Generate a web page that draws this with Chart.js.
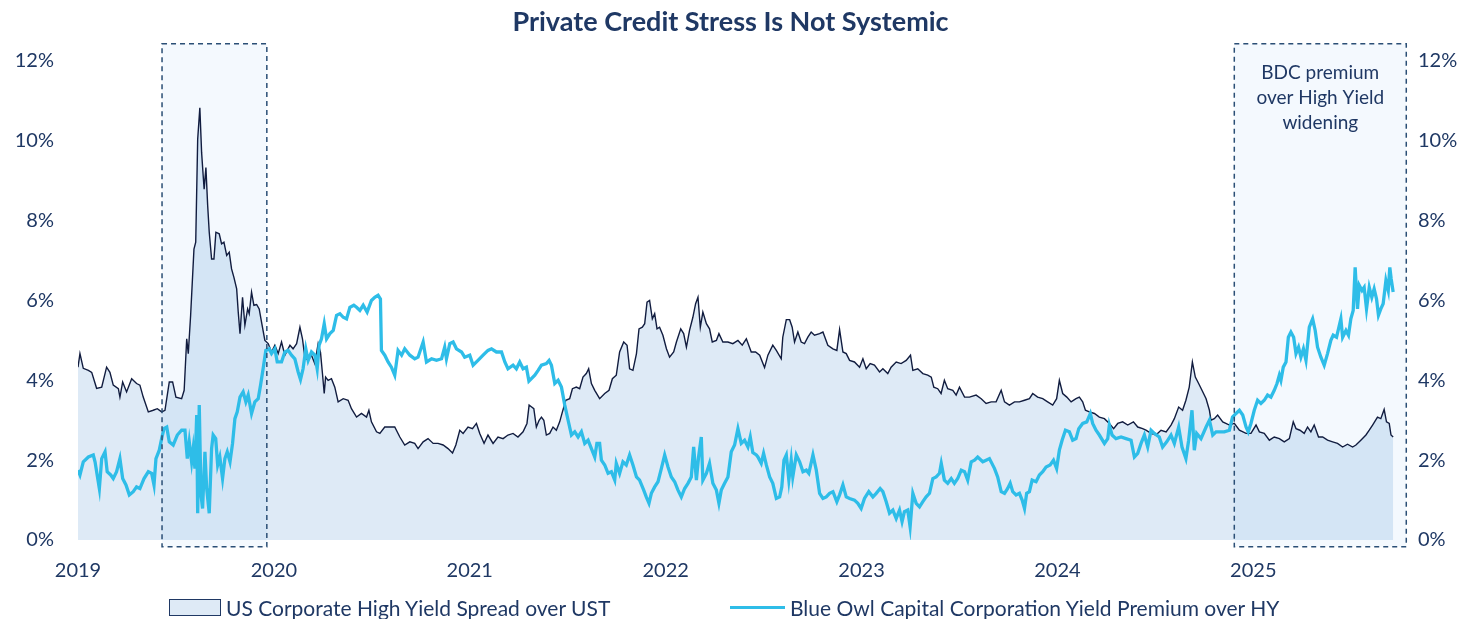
<!DOCTYPE html>
<html>
<head>
<meta charset="utf-8">
<script src="https://cdn.jsdelivr.net/npm/chart.js@4.4.1/dist/chart.umd.min.js"></script>
<style>
  html, body { margin: 0; padding: 0; background: #fff; }
  #wrap { position: relative; width: 1461px; height: 619px; font-family: Lato, "Open Sans", sans-serif; color: #1F3864; }
  #myChart { position: absolute; left: 0; top: 0; }
  .legend-item { position: absolute; top: 596px; height: 23px; display: flex; align-items: center; font-size: 21px; white-space: nowrap; }
  .swatch-box { width: 52px; height: 17px; background: #DEEAF6; border: 1.5px solid #1F3864; box-sizing: border-box; margin-right: 5px; }
  .swatch-line { width: 55px; height: 3px; background: #2EBDE8; margin-right: 5px; }
</style>
</head>
<body>
<div id="wrap">
  <canvas id="myChart" width="1461" height="619"></canvas>
  <div class="legend-item" style="left:169px"><span class="swatch-box"></span>US Corporate High Yield Spread over UST</div>
  <div class="legend-item" style="left:730px"><span class="swatch-line"></span>Blue Owl Capital Corporation Yield Premium over HY</div>
</div>
<script>
// x positions are years since the start of the axis (first label)
const yearLabels = ['2019', '2020', '2021', '2022', '2023', '2024', '2025'];
const yTicks = [0, 2, 4, 6, 8, 10, 12];

// US Corporate High Yield Spread over UST (%)
const hyT = [
  0.000,0.010,0.027,0.053,0.070,0.095,0.121,0.146,0.163,0.180,0.206,0.214,0.228,0.248,0.274,0.299,0.316,0.333,0.359,0.384,0.405,0.427,0.444,0.466,0.483,0.500,0.529,0.542,0.555,0.563,0.575,0.592,0.601,0.611,0.622,0.631,0.639,0.644,0.653,0.662,0.670,0.682,0.694,0.704,0.721,0.733,0.745,0.759,0.772,0.784,0.796,0.810,0.818,0.827,0.840,0.852,0.866,0.874,0.886,0.898,0.912,0.925,0.937,0.954,0.971,0.988,
  1.005,1.022,1.039,1.056,1.082,1.098,1.116,1.133,1.146,1.158,1.175,1.192,1.209,1.226,1.238,1.248,1.257,1.264,1.277,1.294,1.311,1.328,1.354,1.379,1.396,1.422,1.447,1.473,1.485,1.498,1.524,1.541,1.566,1.592,1.617,1.643,1.668,1.694,1.719,1.736,1.762,1.787,1.813,1.838,1.864,1.889,1.912,1.929,1.949,1.966,1.991,
  2.014,2.034,2.051,2.073,2.093,2.119,2.144,2.170,2.195,2.221,2.246,2.272,2.292,2.303,2.311,2.327,2.340,2.354,2.366,2.378,2.391,2.408,2.425,2.442,2.459,2.473,2.490,2.510,2.524,2.544,2.561,2.578,2.595,2.607,2.621,2.638,2.663,2.689,2.711,2.728,2.748,2.765,2.786,2.803,2.816,2.833,2.851,2.864,2.881,2.893,2.905,2.918,2.932,2.944,2.956,2.969,2.986,
  3.004,3.020,3.041,3.055,3.077,3.092,3.106,3.122,3.139,3.153,3.165,3.177,3.190,3.208,3.224,3.238,3.259,3.272,3.292,3.318,3.343,3.369,3.391,3.412,3.437,3.459,3.480,3.505,3.522,3.547,3.565,3.590,3.598,3.616,3.633,3.646,3.658,3.675,3.692,3.709,3.726,3.743,3.760,3.786,3.803,3.828,3.854,3.874,3.888,3.905,3.922,3.939,3.964,3.990,
  4.007,4.024,4.044,4.066,4.092,4.109,4.134,4.151,4.177,4.202,4.228,4.250,4.262,4.287,4.313,4.338,4.356,4.369,4.389,4.406,4.423,4.440,4.466,4.483,4.500,4.526,4.551,4.585,4.611,4.636,4.662,4.687,4.713,4.730,4.755,4.781,4.806,4.832,4.857,4.874,4.899,4.925,4.950,4.976,4.996,
  5.010,5.027,5.048,5.070,5.095,5.112,5.129,5.143,5.163,5.189,5.214,5.240,5.265,5.287,5.308,5.333,5.359,5.388,5.410,5.435,5.452,5.478,5.503,5.529,5.555,5.580,5.597,5.619,5.639,5.656,5.673,5.689,5.704,5.721,5.738,5.759,5.776,5.784,5.801,5.818,5.844,5.878,5.903,5.929,5.963,5.988,
  6.014,6.031,6.056,6.082,6.107,6.133,6.158,6.184,6.204,6.218,6.238,6.260,6.277,6.294,6.311,6.333,6.354,6.379,6.405,6.430,6.456,6.481,6.507,6.524,6.549,6.575,6.592,6.609,6.634,6.651,6.668,6.680,6.694,6.703,6.714
];
const hySpread = [
  4.33,4.67,4.30,4.25,4.20,3.80,3.83,4.33,4.20,3.88,3.79,3.58,3.96,3.71,4.04,3.92,3.88,3.58,3.21,3.25,3.29,3.21,3.25,3.96,3.96,3.58,3.54,3.75,5.04,4.67,5.63,7.29,7.46,10.04,10.83,9.71,9.13,8.79,9.33,8.38,7.71,7.04,7.04,7.71,7.67,7.42,7.46,7.13,7.21,6.79,6.58,6.29,5.71,5.17,6.08,5.38,5.79,5.67,6.21,5.88,5.90,5.79,5.46,5.00,4.92,4.71,
  4.88,4.67,4.96,4.63,4.88,4.79,4.92,5.33,5.04,4.58,4.50,4.63,4.42,4.92,4.70,4.17,3.67,4.08,4.00,4.04,3.83,3.46,3.54,3.50,3.29,3.08,3.17,3.08,3.25,2.96,2.71,2.67,2.83,2.83,2.83,2.58,2.38,2.46,2.42,2.29,2.46,2.54,2.42,2.42,2.38,2.29,2.18,2.38,2.75,2.67,2.83,
  2.79,2.92,2.67,2.42,2.63,2.42,2.58,2.54,2.63,2.67,2.58,2.71,2.92,3.38,3.35,3.29,2.83,3.00,3.08,3.00,2.63,2.67,2.83,2.75,2.96,3.21,3.50,3.54,3.79,3.83,3.79,4.08,4.17,4.29,3.92,3.75,3.54,3.67,3.75,4.04,4.13,4.71,4.96,4.88,4.29,4.25,4.67,5.29,5.33,5.42,5.96,6.00,5.54,5.67,5.29,5.33,5.13,
  4.79,4.58,4.71,4.96,5.29,5.17,4.83,5.25,5.58,5.92,6.08,5.33,5.71,5.42,5.29,4.96,5.00,5.17,4.96,4.96,4.92,5.00,4.88,5.04,4.71,4.71,4.63,4.32,4.63,4.88,4.75,4.54,5.08,5.52,5.52,5.33,4.96,5.21,4.96,4.92,5.08,5.21,5.13,5.17,5.21,4.88,4.79,4.75,5.27,4.71,4.67,4.50,4.46,4.33,
  4.54,4.29,4.42,4.38,4.21,4.29,4.17,4.33,4.46,4.42,4.50,4.63,4.25,4.29,4.17,4.13,4.08,3.83,3.79,3.67,4.00,3.79,3.75,3.63,3.83,3.58,3.58,3.63,3.54,3.42,3.46,3.46,3.75,3.46,3.38,3.46,3.46,3.50,3.54,3.67,3.58,3.54,3.46,3.38,3.54,
  4.00,3.67,3.58,3.46,3.54,3.58,3.46,3.25,3.21,3.17,3.08,3.04,2.92,2.79,2.92,2.96,2.88,2.96,2.83,2.79,2.75,2.67,2.63,2.75,2.71,2.88,3.04,3.33,3.25,3.50,3.83,4.46,4.08,3.92,3.75,3.54,3.25,3.00,3.04,3.13,2.96,2.88,2.92,2.75,2.67,2.67,
  2.88,2.71,2.67,2.50,2.58,2.54,2.46,2.54,2.96,2.79,2.75,2.67,2.83,2.71,2.88,2.58,2.58,2.50,2.46,2.42,2.33,2.40,2.33,2.38,2.50,2.63,2.75,2.88,3.08,3.04,3.27,2.96,2.92,2.63,2.58
];

// Blue Owl Capital Corporation Yield Premium over HY (%)
const bdcT = [
  0.000,0.010,0.027,0.053,0.078,0.087,0.109,0.121,0.138,0.149,0.167,0.180,0.197,0.214,0.228,0.245,0.262,0.282,0.299,0.316,0.337,0.359,0.376,0.388,0.398,0.415,0.427,0.439,0.453,0.466,0.486,0.507,0.529,0.546,0.558,0.568,0.580,0.588,0.597,0.606,0.611,0.619,0.628,0.636,0.648,0.657,0.670,0.682,0.690,0.703,0.713,0.724,0.738,0.750,0.762,0.776,0.789,0.801,0.813,0.827,0.843,0.857,0.869,0.886,0.903,0.920,0.932,0.945,0.959,0.976,0.988,
  1.005,1.017,1.039,1.056,1.073,1.090,1.107,1.124,1.136,1.149,1.163,1.175,1.192,1.209,1.221,1.231,1.243,1.257,1.269,1.286,1.303,1.320,1.337,1.354,1.371,1.388,1.408,1.422,1.439,1.456,1.476,1.498,1.515,1.532,1.544,1.549,1.566,1.583,1.600,1.617,1.634,1.652,1.668,1.694,1.719,1.736,1.762,1.779,1.805,1.830,1.856,1.872,1.881,1.898,1.915,1.932,1.958,1.974,
  2.000,2.017,2.042,2.068,2.093,2.111,2.136,2.162,2.179,2.195,2.221,2.238,2.255,2.272,2.289,2.302,2.332,2.349,2.366,2.391,2.405,2.417,2.434,2.451,2.468,2.485,2.502,2.519,2.536,2.553,2.570,2.587,2.604,2.621,2.638,2.649,2.663,2.672,2.689,2.706,2.723,2.740,2.748,2.765,2.782,2.799,2.816,2.833,2.851,2.867,2.888,2.901,2.915,2.927,2.944,2.961,2.978,2.995,
  3.012,3.029,3.046,3.063,3.080,3.097,3.114,3.131,3.143,3.157,3.168,3.182,3.190,3.208,3.224,3.241,3.259,3.272,3.284,3.301,3.318,3.335,3.352,3.369,3.386,3.403,3.420,3.432,3.445,3.463,3.471,3.488,3.500,3.514,3.531,3.547,3.565,3.582,3.593,3.604,3.616,3.629,3.641,3.649,3.667,3.684,3.701,3.718,3.731,3.752,3.769,3.786,3.803,3.820,3.837,3.854,3.874,3.888,3.905,3.922,3.939,3.964,3.981,3.998,
  4.015,4.037,4.058,4.075,4.095,4.109,4.126,4.143,4.160,4.177,4.194,4.207,4.219,4.236,4.248,4.262,4.279,4.296,4.313,4.330,4.347,4.364,4.381,4.398,4.407,4.423,4.440,4.458,4.474,4.491,4.509,4.526,4.542,4.560,4.577,4.593,4.619,4.636,4.653,4.679,4.695,4.713,4.730,4.746,4.759,4.772,4.789,4.806,4.820,4.832,4.843,4.857,4.871,4.891,4.908,4.925,4.942,4.963,4.980,4.996,
  5.010,5.024,5.041,5.061,5.078,5.095,5.109,5.129,5.150,5.168,5.180,5.197,5.214,5.240,5.257,5.265,5.279,5.299,5.325,5.350,5.376,5.393,5.410,5.427,5.444,5.461,5.478,5.495,5.520,5.537,5.558,5.580,5.597,5.619,5.636,5.656,5.670,5.687,5.699,5.711,5.733,5.759,5.776,5.793,5.810,5.827,5.852,5.878,5.894,5.912,5.929,5.946,5.963,5.974,5.988,
  6.005,6.022,6.039,6.056,6.073,6.090,6.107,6.121,6.133,6.141,6.153,6.167,6.179,6.192,6.206,6.218,6.231,6.243,6.256,6.269,6.286,6.303,6.316,6.328,6.345,6.362,6.379,6.396,6.408,6.425,6.435,6.447,6.456,6.473,6.486,6.498,6.510,6.520,6.532,6.541,6.555,6.566,6.578,6.592,6.605,6.617,6.629,6.639,6.651,6.663,6.677,6.689,6.697,6.704,6.714
];
const bdcPremium = [
  1.75,1.63,1.96,2.08,2.13,1.96,1.29,2.04,2.21,1.71,1.63,1.54,1.71,2.04,1.54,1.38,1.13,1.21,1.33,1.29,1.54,1.71,1.67,1.38,2.04,2.25,2.54,2.79,2.83,2.46,2.38,2.63,2.75,2.75,2.04,2.46,1.96,2.29,1.79,3.13,0.67,3.38,1.13,0.79,2.21,1.29,0.67,2.29,2.63,2.54,1.88,2.08,1.54,2.04,2.21,1.96,2.42,3.04,3.21,3.58,3.71,3.46,3.63,3.17,3.46,3.54,3.88,4.29,4.75,4.79,4.67,
  4.79,4.46,4.46,4.71,4.75,4.63,4.54,4.21,4.02,4.29,4.79,4.50,4.71,4.63,4.29,4.88,5.04,5.42,5.04,5.17,5.25,5.63,5.67,5.58,5.54,5.83,5.88,5.83,5.75,5.88,5.71,6.00,6.08,6.13,6.04,4.75,4.63,4.46,4.33,4.13,4.75,4.63,4.79,4.63,4.54,4.58,4.96,4.46,4.54,4.50,4.54,4.83,4.54,4.92,4.96,4.79,4.71,4.58,
  4.63,4.38,4.50,4.63,4.75,4.79,4.71,4.71,4.46,4.29,4.38,4.29,4.46,4.29,4.33,3.98,4.13,4.25,4.38,4.42,4.50,4.38,3.92,4.00,3.83,3.38,3.00,2.63,2.71,2.58,2.71,2.42,2.50,2.29,2.08,2.42,2.42,2.00,1.88,1.67,1.71,1.50,1.92,1.67,1.96,1.88,2.13,1.88,1.58,1.50,1.25,1.08,0.92,1.17,1.33,1.46,1.79,2.13,
  1.83,1.58,1.46,1.25,1.08,1.29,1.42,1.58,2.33,1.50,2.08,2.58,1.50,1.67,1.92,1.42,1.25,0.92,1.25,1.42,1.58,2.21,2.38,2.79,2.42,2.50,2.33,2.58,2.19,2.13,2.08,1.92,2.17,1.88,1.58,1.42,1.04,1.08,1.33,2.00,2.13,1.50,2.00,1.58,2.13,1.96,1.71,1.75,1.67,2.13,1.75,1.17,1.04,1.08,1.17,1.21,0.96,1.13,1.38,1.08,1.04,1.00,0.92,0.79,
  1.04,1.21,1.08,1.17,1.29,1.21,0.96,0.67,0.75,0.54,0.75,0.46,0.71,0.75,0.33,1.17,0.92,0.83,0.96,1.08,1.17,1.54,1.58,1.67,1.92,1.50,1.42,1.54,1.42,1.54,1.75,1.71,1.50,1.96,2.00,2.08,1.96,2.00,2.04,1.79,1.58,1.21,1.17,1.29,1.42,1.21,1.13,1.17,1.00,0.79,1.17,1.21,1.50,1.46,1.63,1.71,1.83,1.88,2.00,1.79,
  2.25,2.50,2.75,2.71,2.50,2.54,2.79,2.92,2.96,3.17,2.92,2.75,2.63,2.42,2.54,2.88,2.63,2.54,2.58,2.54,2.50,2.08,2.17,2.42,2.63,2.33,2.75,2.67,2.58,2.33,2.46,2.63,2.42,2.83,2.33,2.04,2.50,3.25,2.25,2.67,2.54,2.83,3.00,2.63,2.71,2.71,2.71,2.75,3.08,3.17,3.25,3.13,2.83,2.71,2.92,
  3.25,3.50,3.42,3.50,3.63,3.58,3.75,3.92,4.13,4.00,4.33,4.46,5.08,5.21,5.08,4.67,4.83,4.58,4.79,4.50,5.33,5.54,5.25,4.83,4.58,4.38,4.67,5.00,5.13,5.08,5.29,5.54,5.08,5.25,5.13,5.54,5.75,6.83,5.79,6.38,6.25,6.33,5.79,6.33,6.08,6.29,6.04,5.63,5.79,5.92,6.50,6.25,6.83,6.54,6.21
];

// shaded highlight windows (x in years since start, y in %)
const highlightFrom = [0.429, 5.903];
const highlightTo = [0.964, 6.781];
const highlightNotes = [[], ['BDC premium', 'over High Yield', 'widening']];
const highlightTop = 12.43;
const highlightBottom = -0.17;

const navy = '#1F3864';

const toPoints = (xs, ys) => xs.map((x, i) => ({ x: x, y: ys[i] }));

// draws the dashed highlight boxes through the chart scales
const highlightPlugin = {
    id: 'highlights',
    beforeDatasetsDraw(chart) {
        const { ctx, scales } = chart;
        ctx.save();
        ctx.fillStyle = '#F4F9FE';
        for (let i = 0; i < highlightFrom.length; i++) {
            const x1 = scales.x.getPixelForValue(highlightFrom[i]);
            const x2 = scales.x.getPixelForValue(highlightTo[i]);
            const y1 = scales.y.getPixelForValue(highlightTop);
            const y2 = scales.y.getPixelForValue(highlightBottom);
            ctx.fillRect(x1, y1, x2 - x1, y2 - y1);
        }
        ctx.restore();
    },
    afterDatasetsDraw(chart) {
        const { ctx, scales } = chart;
        ctx.save();
        ctx.strokeStyle = '#2B4F76';
        ctx.lineWidth = 1.5;
        ctx.setLineDash([5, 4]);
        for (let i = 0; i < highlightFrom.length; i++) {
            const x1 = scales.x.getPixelForValue(highlightFrom[i]);
            const x2 = scales.x.getPixelForValue(highlightTo[i]);
            const y1 = scales.y.getPixelForValue(highlightTop);
            const y2 = scales.y.getPixelForValue(highlightBottom);
            ctx.strokeRect(x1, y1, x2 - x1, y2 - y1);

            ctx.fillStyle = navy;
            ctx.font = '19px Lato, "Open Sans", sans-serif';
            ctx.textAlign = 'center';
            ctx.textBaseline = 'middle';
            highlightNotes[i].forEach((line, j) => {
                ctx.fillText(line, (x1 + x2) / 2, y1 + 29 + j * 25);
            });
        }
        ctx.restore();
    }
};

const tickFont = { family: 'Lato, "Open Sans", sans-serif', size: 20 };

let myChart;
const displayGraph = () => {
    const ctx = document.getElementById('myChart');
    myChart = new Chart(ctx, {
        type: 'line',
        data: {
            datasets: [{
                label: 'Blue Owl Capital Corporation Yield Premium over HY',
                data: toPoints(bdcT, bdcPremium),
                borderColor: '#2EBDE8',
                borderWidth: 3.3,
                pointRadius: 0,
                fill: false,
                tension: 0
            }, {
                label: 'US Corporate High Yield Spread over UST',
                data: toPoints(hyT, hySpread),
                borderColor: '#111C3F',
                borderWidth: 1.4,
                backgroundColor: 'rgba(35,115,195,0.15)',
                pointRadius: 0,
                fill: 'origin',
                tension: 0
            }]
        },
        options: {
            responsive: false,
            animation: false,
            devicePixelRatio: 1,
            layout: { padding: { left: 0, right: 0, top: 0, bottom: 29 } },
            plugins: {
                legend: { display: false },
                tooltip: { enabled: false },
                title: {
                    display: true,
                    text: 'Private Credit Stress Is Not Systemic',
                    color: navy,
                    font: { family: 'Lato, "Open Sans", sans-serif', size: 27, weight: 'bold', lineHeight: 1.2 },
                    padding: { top: 5.8, bottom: 22.8 }
                }
            },
            scales: {
                x: {
                    type: 'linear',
                    min: 0,
                    max: 6.8,
                    grid: { display: false, drawTicks: false },
                    border: { display: false },
                    afterBuildTicks: (scale) => {
                        scale.ticks = yearLabels.map((_, i) => ({ value: i }));
                    },
                    afterFit: (scale) => { scale.height = 50; },
                    ticks: {
                        autoSkip: false,
                        maxRotation: 0,
                        padding: 19,
                        color: navy,
                        font: tickFont,
                        callback: (v) => yearLabels[v] ?? ''
                    }
                },
                y: {
                    position: 'left',
                    min: 0,
                    max: 12,
                    grid: { display: false, drawTicks: false },
                    border: { display: false },
                    afterBuildTicks: (scale) => {
                        scale.ticks = yTicks.map((v) => ({ value: v }));
                    },
                    afterFit: (scale) => { scale.width = 78; },
                    ticks: { padding: 24, color: navy, font: tickFont, callback: (v) => v + '%' }
                },
                y2: {
                    position: 'right',
                    min: 0,
                    max: 12,
                    grid: { display: false, drawTicks: false },
                    border: { display: false },
                    afterBuildTicks: (scale) => {
                        scale.ticks = yTicks.map((v) => ({ value: v }));
                    },
                    afterFit: (scale) => { scale.width = 51; },
                    ticks: { padding: 8, color: navy, font: tickFont, callback: (v) => v + '%' }
                }
            }
        },
        plugins: [highlightPlugin]
    });
};

displayGraph();
</script>
</body>
</html>
